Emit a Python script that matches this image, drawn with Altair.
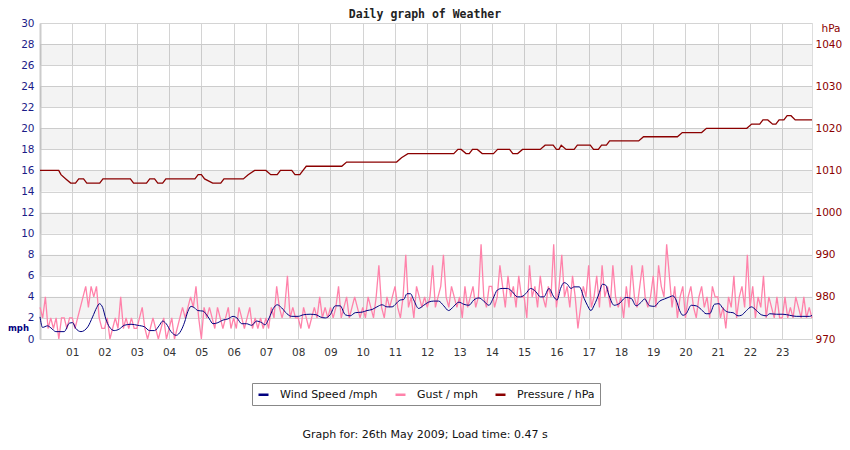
import altair as alt
import pandas as pd

# ---------------- data ----------------
series_names = ["Wind Speed /mph", "Gust / mph", "Pressure / hPa"]
series_colors = ["#000080", "#ff82aa", "#8b0000"]

wind_hours = [0.0, 0.08, 0.23, 0.34, 0.49, 0.75, 0.91, 1.01, 1.11, 1.27, 1.48, 1.63, 1.76, 1.84, 1.94,
              2.04, 2.15, 2.3, 2.46, 2.61, 2.82, 3.03, 3.24, 3.39, 3.55, 3.7, 3.8, 3.91, 4.06, 4.22,
              4.37, 4.48, 4.58, 4.68, 4.79, 4.89, 5.05, 5.15, 5.25, 5.36, 5.51, 5.67, 5.82, 5.98,
              6.1, 6.25, 6.4, 6.56, 6.71, 6.87, 6.97, 7.1, 7.23, 7.35, 7.49, 7.65, 7.8, 8.0, 8.16,
              8.37, 8.56, 8.68, 8.84, 8.99, 9.15, 9.3, 9.46, 9.61, 9.77, 9.98, 10.13, 10.29, 10.44,
              10.6, 10.75, 10.91, 11.03, 11.16, 11.27, 11.37, 11.48, 11.58, 11.73, 11.89, 12.04,
              12.2, 12.35, 12.51, 12.66, 12.82, 12.98, 13.13, 13.29, 13.44, 13.6, 13.75, 13.91,
              14.04, 14.17, 14.32, 14.48, 14.63, 14.79, 14.89, 15.05, 15.2, 15.36, 15.51, 15.61,
              15.77, 15.92, 16.02, 16.13, 16.24, 16.34, 16.45, 16.55, 16.71, 16.86, 16.96, 17.07,
              17.17, 17.32, 17.43, 17.53, 17.63, 17.79, 17.94, 18.16, 18.32, 18.47, 18.63, 18.73,
              18.89, 19.04, 19.2, 19.35, 19.51, 19.61, 19.71, 19.82, 19.92, 20.02, 20.18, 20.33,
              20.49, 20.64, 20.75, 20.9, 21.04, 21.16, 21.32, 21.47, 21.63, 21.73, 21.89, 22.04,
              22.2, 22.35, 22.51, 22.61, 22.82, 23.02, 23.23, 23.43, 23.64, 23.85, 23.92]
wind_mph = [2.1, 1.1, 1.25, 1.05, 0.7, 0.7, 1.5, 1.55, 1.0, 0.7, 1.15, 2.1, 3.0, 3.35, 3.0,
            1.9, 1.15, 0.8, 0.95, 1.3, 1.4, 1.3, 1.15, 0.8, 0.8, 1.3, 1.7, 1.45, 0.7, 0.35,
            0.8, 1.6, 2.6, 3.1, 2.95, 2.7, 2.65, 2.35, 1.9, 1.45, 1.55, 1.8, 1.9, 2.15,
            2.0, 1.45, 1.45, 1.3, 1.7, 1.55, 1.35, 2.0, 2.9, 3.25, 2.95, 2.4, 2.15, 2.15, 2.3,
            2.35, 2.3, 2.1, 2.0, 2.3, 3.15, 3.15, 2.3, 2.2, 2.5, 2.55, 2.7, 2.8, 3.05,
            3.25, 3.05, 3.05, 3.35, 3.7, 3.75, 4.3, 4.3, 3.7, 2.9, 3.2, 3.5,
            3.6, 3.6, 3.15, 2.7, 3.1, 3.5, 3.3, 3.2, 3.7, 3.9, 3.6, 3.2,
            3.85, 4.65, 4.8, 4.8, 4.5, 4.0, 4.0, 4.3, 4.8, 4.5, 4.0, 4.0,
            4.8, 4.0, 3.7, 4.8, 5.35, 5.2, 4.8, 4.95, 4.95, 3.85, 3.2, 2.7,
            3.2, 4.3, 5.2, 5.1, 4.15, 3.2, 3.35, 3.95, 3.85, 3.15, 3.5, 3.8,
            3.15, 3.1, 3.6, 3.8, 4.0, 4.1, 3.7, 2.7, 2.25, 2.4, 3.2, 3.15,
            2.8, 2.4, 2.4, 3.3, 3.35, 2.9, 2.55, 2.5, 2.2, 2.25, 2.7, 3.05,
            2.7, 2.3, 2.2, 2.4, 2.35, 2.35, 2.25, 2.15, 2.15, 2.15, 2.25]

# gust readings, 12 per hour (5-minute samples), one row per hour 00..23
gust_by_hour = [
    [3, 2, 4, 1, 2, 1, 2, 0, 2, 2, 1, 2],
    [2, 1, 2, 3, 4, 5, 3, 5, 4, 5, 2, 1],
    [1, 2, 0, 1, 2, 1, 4, 1, 2, 1, 2, 1],
    [1, 2, 3, 1, 0, 1, 2, 1, 0, 1, 2, 0],
    [1, 2, 0, 1, 2, 3, 2, 3, 4, 3, 5, 2],
    [0, 3, 2, 3, 2, 1, 3, 2, 1, 2, 3, 1],
    [2, 1, 3, 2, 1, 2, 3, 1, 2, 1, 2, 1],
    [2, 1, 3, 2, 5, 3, 2, 3, 6, 2, 3, 2],
    [2, 1, 3, 2, 1, 2, 3, 2, 4, 2, 3, 2],
    [3, 2, 3, 5, 2, 3, 4, 2, 3, 4, 3, 2],
    [3, 2, 4, 3, 2, 4, 7, 3, 2, 4, 3, 4],
    [5, 3, 2, 4, 8, 3, 4, 2, 5, 4, 3, 4],
    [3, 4, 7, 3, 4, 5, 8, 4, 3, 5, 4, 3],
    [4, 2, 5, 3, 4, 5, 3, 4, 9, 4, 3, 5],
    [5, 3, 4, 7, 5, 3, 6, 4, 5, 3, 6, 4],
    [4, 2, 7, 4, 5, 3, 6, 4, 3, 5, 4, 9],
    [3, 5, 8, 4, 5, 3, 6, 4, 1, 3, 5, 4],
    [7, 3, 4, 6, 3, 7, 4, 5, 3, 7, 4, 3],
    [4, 2, 5, 3, 7, 4, 3, 5, 7, 4, 3, 4],
    [6, 3, 7, 5, 4, 9, 6, 3, 5, 2, 4, 5],
    [2, 4, 5, 3, 2, 4, 5, 3, 4, 2, 5, 4],
    [4, 2, 3, 1, 4, 3, 6, 2, 4, 5, 3, 8],
    [3, 5, 2, 4, 3, 6, 2, 4, 3, 2, 4, 2],
    [2, 4, 2, 3, 2, 4, 3, 2, 4, 2, 3, 2],
]

pressure_hours = [0.0, 0.58, 0.65, 0.8, 0.95, 1.1, 1.2, 1.35, 1.45, 1.85, 1.95, 2.8, 2.9, 3.3, 3.4,
                  3.55, 3.65, 3.8, 3.9, 4.8, 4.9, 5.0, 5.1, 5.35, 5.6, 5.7, 6.3, 6.45, 6.65, 7.0,
                  7.15, 7.35, 7.45, 7.8, 7.9, 8.05, 8.15, 8.25, 9.35, 9.5, 11.05, 11.2, 11.4, 12.82,
                  12.95, 13.05, 13.2, 13.3, 13.4, 13.55, 13.7, 14.05, 14.18, 14.55, 14.65, 14.8,
                  14.95, 15.5, 15.65, 15.9, 16.0, 16.08, 16.15, 16.3, 16.55, 16.65, 17.05, 17.15,
                  17.3, 17.4, 17.55, 17.65, 18.55, 18.7, 19.75, 19.9, 20.5, 20.65, 21.9, 22.05,
                  22.3, 22.4, 22.55, 22.7, 22.8, 22.9, 23.05, 23.15, 23.27, 23.4, 23.92]
pressure_hpa = [1010, 1010, 1009, 1008, 1007, 1007, 1008, 1008, 1007, 1007, 1008, 1008, 1007, 1007, 1008,
                1008, 1007, 1007, 1008, 1008, 1009, 1009, 1008, 1007, 1007, 1008, 1008, 1009, 1010, 1010,
                1009, 1009, 1010, 1010, 1009, 1009, 1010, 1011, 1011, 1012, 1012, 1013, 1014, 1014,
                1015, 1015, 1014, 1014, 1015, 1015, 1014, 1014, 1015, 1015, 1014, 1014,
                1015, 1015, 1016, 1016, 1015, 1015, 1016, 1015, 1015, 1016, 1016, 1015,
                1015, 1016, 1016, 1017, 1017, 1018, 1018, 1019, 1019, 1020, 1020, 1021,
                1021, 1022, 1022, 1021, 1021, 1022, 1022, 1023, 1023, 1022, 1022]

hour_ticks = list(range(1, 24))
mph_ticks = list(range(0, 31, 2))
hpa_ticks = list(range(970, 1041, 10))

title_text = "Daily graph of Weather"
footer_text = "Graph for: 26th May 2009; Load time: 0.47 s"
left_unit = "mph"
right_unit = "hPa"

# ---------------- tables ----------------
gust_hours = [h + i / 12 for h in range(len(gust_by_hour)) for i in range(12)]
gust_mph = [v for row in gust_by_hour for v in row]

wind_df = pd.DataFrame({"hour": wind_hours, "value": wind_mph, "series": series_names[0]})
gust_df = pd.DataFrame({"hour": gust_hours, "value": gust_mph, "series": series_names[1]})
press_df = pd.DataFrame({"hour": pressure_hours, "value": pressure_hpa, "series": series_names[2]})

W, H = 772, 316
FONT = "DejaVu Sans"

x_scale = alt.Scale(domain=[0, 23.92], nice=False, zero=False)
y_left = alt.Scale(domain=[0, 30], nice=False)
y_right = alt.Scale(domain=[970, 1045], nice=False, zero=False)
color_scale = alt.Scale(domain=series_names, range=series_colors)

x_axis = alt.Axis(values=hour_ticks, title=None, grid=True, gridColor="#d4d4d4",
                  labelExpr="(datum.value < 10 ? '0' : '') + datum.value",
                  labelColor="#333333", labelFont=FONT, labelFontSize=10.5, labelPadding=8,
                  ticks=False, domain=False)
left_axis = alt.Axis(values=mph_ticks, title=None, grid=True, gridColor="#d4d4d4",
                     labelColor="#1c1c88", labelFont=FONT, labelFontSize=10.5, labelPadding=6,
                     ticks=False, domain=True, domainColor="#cccccc", domainWidth=2)
right_axis = alt.Axis(values=hpa_ticks, title=None, orient="right", grid=False, format="d",
                      labelColor="#8b0000", labelFont=FONT, labelFontSize=10.5, labelPadding=3,
                      ticks=False, domain=False)

legend = alt.Legend(title=None, orient="none", legendX=212, legendY=360, direction="horizontal",
                    strokeColor="#888888", fillColor="white", padding=5, symbolType="stroke",
                    symbolSize=100, symbolStrokeWidth=2.5, labelFont=FONT, labelFontSize=11,
                    labelColor="#111111", labelOffset=10, columnPadding=12)

color_enc = alt.Color("series:N", scale=color_scale, legend=legend)

bands = alt.Chart(alt.sequence(2, 30, 4, as_="b")).transform_calculate(
    b2="datum.b + 2"
).mark_rect(color="#000000", opacity=0.047).encode(
    y=alt.Y("b:Q", scale=y_left, axis=left_axis),
    y2="b2:Q",
    x=alt.value(0),
    x2=alt.value(W),
)

gust = alt.Chart(gust_df).mark_line(strokeWidth=1.3).encode(
    x=alt.X("hour:Q", scale=x_scale, axis=x_axis),
    y=alt.Y("value:Q", scale=y_left, axis=left_axis),
    color=color_enc,
)

wind = alt.Chart(wind_df).mark_line(strokeWidth=1, interpolate="monotone").encode(
    x=alt.X("hour:Q", scale=x_scale, axis=x_axis),
    y=alt.Y("value:Q", scale=y_left, axis=left_axis),
    color=color_enc,
)

pressure = alt.Chart(press_df).mark_line(strokeWidth=1.3).encode(
    x=alt.X("hour:Q", scale=x_scale, axis=x_axis),
    y=alt.Y("value:Q", scale=y_right, axis=right_axis),
    color=color_enc,
)


def label(text, x, y, **kw):
    kw.setdefault("font", FONT)
    return alt.Chart(pd.DataFrame({"t": [text]})).mark_text(**kw).encode(
        text="t:N", x=alt.value(x), y=alt.value(y))


title_mark = label(title_text, 385, -8, font="DejaVu Sans Mono", fontWeight="bold",
                   fontSize=11.5, color="#222222", align="center", baseline="middle")
footer_mark = label(footer_text, 385, 412, fontSize=11, color="#111111",
                    align="center", baseline="middle")
mph_mark = label(left_unit, -32, 305, fontWeight="bold", fontSize=8.5, color="#000080",
                 align="left", baseline="middle")
hpa_mark = label(right_unit, 791, 6, fontSize=10.5, color="#8b0000",
                 align="center", baseline="middle")

left_layer = alt.layer(bands, gust, wind, title_mark, footer_mark, mph_mark, hpa_mark)

chart = alt.layer(left_layer, pressure).resolve_scale(y="independent").properties(
    width=W, height=H,
    autosize=alt.AutoSizeParams(type="none"),
    padding={"left": 32, "top": 15, "right": 30, "bottom": 103},
).configure_view(stroke="#cccccc", strokeWidth=1).configure(background="white")

chart.save("out.html", embed_options={"renderer": "svg", "actions": False})
